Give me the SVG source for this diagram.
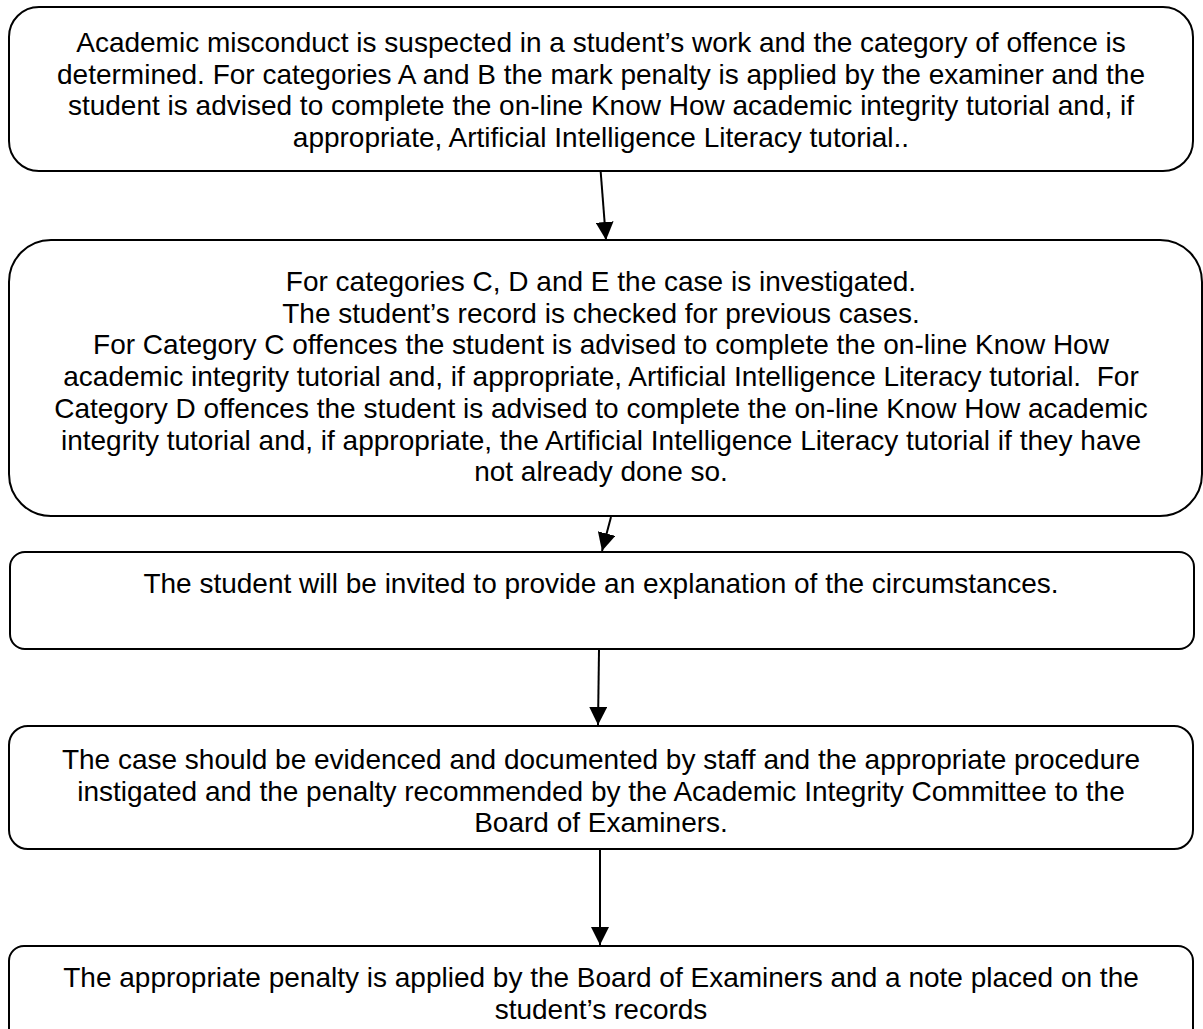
<svg xmlns="http://www.w3.org/2000/svg" width="1203" height="1029" viewBox="0 0 1203 1029">
<defs>
<marker id="ah" markerUnits="userSpaceOnUse" markerWidth="18" markerHeight="18" viewBox="0 0 16 16" refX="16" refY="8" orient="auto">
<path d="M0,0 L16,8 L0,16 Z" fill="#000"/>
</marker>
</defs>
<style>
.box{fill:#fff;stroke:#000;stroke-width:2}
.t{font-family:"Liberation Sans",Arial,sans-serif;font-size:28px;fill:#000;text-anchor:middle}
.c{stroke:#000;stroke-width:2;fill:none;marker-end:url(#ah)}
</style>
<rect width="1203" height="1029" fill="#fff"/>
<g id="connectors">
<line class="c" x1="600.7" y1="172" x2="606" y2="240"/>
<line class="c" x1="611" y1="517" x2="602" y2="551"/>
<line class="c" x1="599" y1="650" x2="598" y2="725"/>
<line class="c" x1="600" y1="850" x2="600" y2="945"/>
</g>
<g id="n1">
<rect class="box" x="9" y="7" width="1184" height="164" rx="30" ry="30"/>
<text class="t" x="601" y="52">Academic misconduct is suspected in a student’s work and the category of offence is</text>
<text class="t" x="601" y="83.7">determined. For categories A and B the mark penalty is applied by the examiner and the</text>
<text class="t" x="601" y="115.4">student is advised to complete the on-line Know How academic integrity tutorial and, if</text>
<text class="t" x="601" y="147">appropriate, Artificial Intelligence Literacy tutorial..</text>
</g>
<g id="n2">
<rect class="box" x="9" y="240" width="1193" height="276" rx="42" ry="42"/>
<text class="t" x="601" y="291">For categories C, D and E the case is investigated.</text>
<text class="t" x="601" y="322.7">The student’s record is checked for previous cases.</text>
<text class="t" x="601" y="354.4">For Category C offences the student is advised to complete the on-line Know How</text>
<text class="t" x="601" y="386.1" xml:space="preserve">academic integrity tutorial and, if appropriate, Artificial Intelligence Literacy tutorial.  For</text>
<text class="t" x="601" y="417.8">Category D offences the student is advised to complete the on-line Know How academic</text>
<text class="t" x="601" y="449.5">integrity tutorial and, if appropriate, the Artificial Intelligence Literacy tutorial if they have</text>
<text class="t" x="601" y="481.2">not already done so.</text>
</g>
<g id="n3">
<rect class="box" x="10" y="552" width="1184" height="97" rx="15" ry="15"/>
<text class="t" x="601" y="593">The student will be invited to provide an explanation of the circumstances.</text>
</g>
<g id="n4">
<rect class="box" x="9" y="726" width="1184" height="123" rx="19" ry="19"/>
<text class="t" x="601" y="769">The case should be evidenced and documented by staff and the appropriate procedure</text>
<text class="t" x="601" y="800.7">instigated and the penalty recommended by the Academic Integrity Committee to the</text>
<text class="t" x="601" y="832.4">Board of Examiners.</text>
</g>
<g id="n5">
<rect class="box" x="9" y="946" width="1184" height="100" rx="15" ry="15"/>
<text class="t" x="601" y="987">The appropriate penalty is applied by the Board of Examiners and a note placed on the</text>
<text class="t" x="601" y="1018.7">student’s records</text>
</g>
</svg>
